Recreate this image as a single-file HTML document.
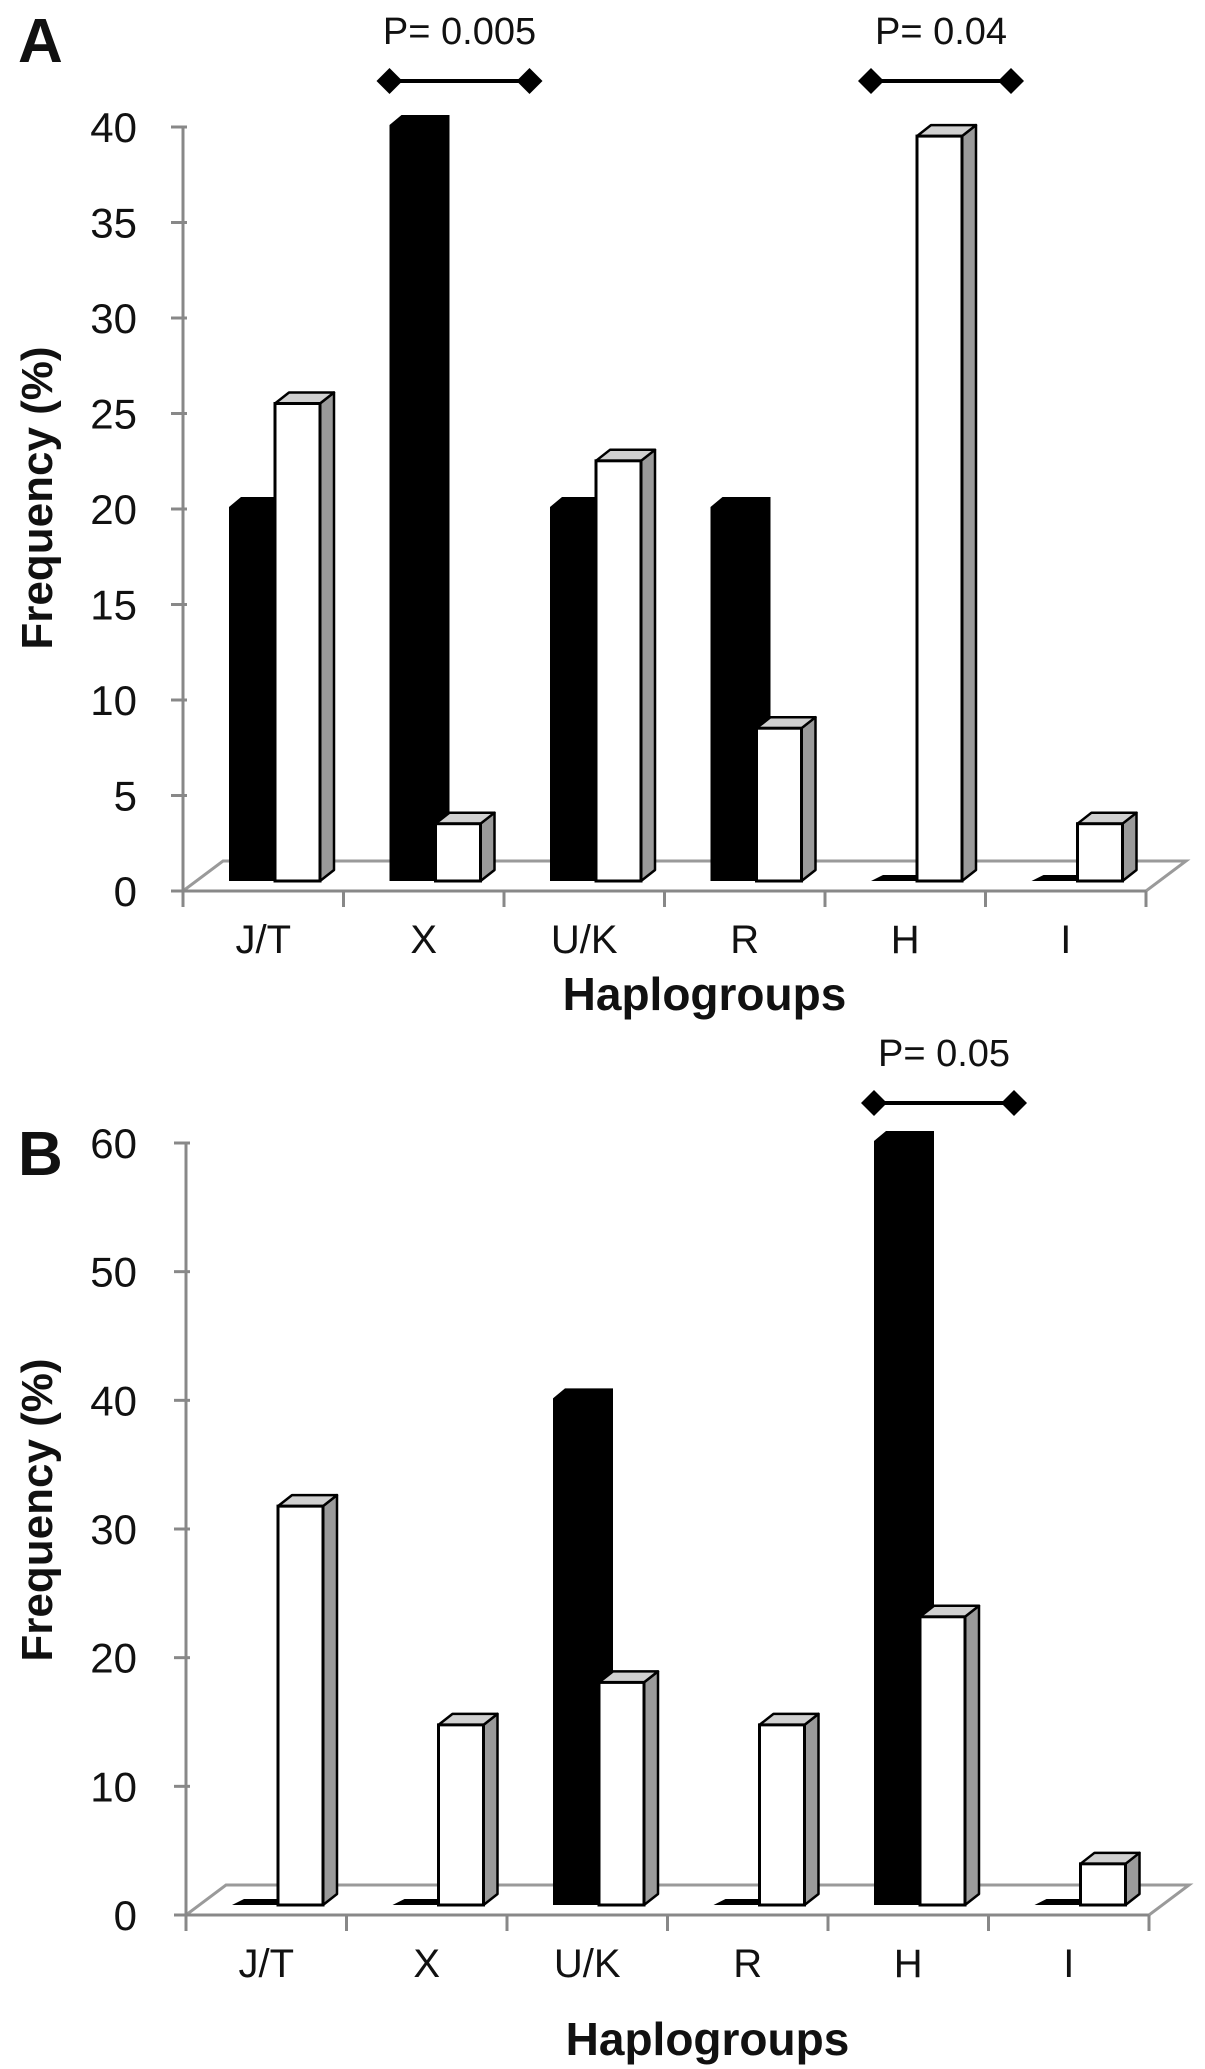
<!DOCTYPE html>
<html><head><meta charset="utf-8"><style>
html,body{margin:0;padding:0;background:#fff;}
svg{display:block;font-family:"Liberation Sans",sans-serif;}
</style></head><body>
<svg id="fig" width="1205" height="2069" viewBox="0 0 1205 2069"></svg>
<script>
const categories = ["J/T","X","U/K","R","H","I"];
const seriesA_black = [20,40,20,20,0,0];
const seriesA_white = [25,3,22,8,39,3];
const seriesB_black = [0,0,40,0,60,0];
const seriesB_white = [31,14,17.3,14,22.4,3.2];
const ticksA = [0,5,10,15,20,25,30,35,40];
const ticksB = [0,10,20,30,40,50,60];

const NS="http://www.w3.org/2000/svg";
const svg=document.getElementById('fig');
function mk(tag,attrs,parent){const e=document.createElementNS(NS,tag);for(const k in attrs)e.setAttribute(k,attrs[k]);(parent||svg).appendChild(e);return e;}

function panel(cfg){
  const g=mk('g',{});
  
  
  const x0=cfg.x0,y0=cfg.y0,cw=160.5,n=categories.length,xe=x0+cw*n;
  const yT=v=>y0-v*(y0-cfg.ytop)/cfg.ymax;
  const base=y0-10;
  const yV=v=>base-v*(y0-cfg.ytop)/cfg.ymax;
  const floor=mk('polygon',{points:`${x0},${y0} ${x0+40},${y0-30} ${xe+40},${y0-30} ${xe},${y0}`,fill:'#fff',stroke:'#9a9a9a','stroke-width':3},g);
   
  const ya=mk('line',{x1:x0,y1:y0,x2:x0,y2:yT(cfg.ymax),stroke:'#888','stroke-width':3},g);
   
  cfg.ticks.forEach(t=>{
    mk('line',{x1:x0-12,y1:yT(t),x2:x0+4,y2:yT(t),stroke:'#888','stroke-width':3},g);
    const tx=mk('text',{x:137,y:yT(t)+15,'text-anchor':'end','font-size':42,fill:'#111'},g);
    tx.textContent=t;
     
  });
  const xa=mk('line',{x1:x0-12,y1:y0,x2:xe,y2:y0,stroke:'#888','stroke-width':3},g);
   
  for(let i=0;i<=n;i++) mk('line',{x1:x0+i*cw,y1:y0,x2:x0+i*cw,y2:y0+16,stroke:'#888','stroke-width':3},g);
  categories.forEach((c,i)=>{
    const cx=x0+i*cw;
    const bl=cx+46,bm=cx+92,br=cx+137,d=14,dy=11;
    const vb=cfg.black[i],vw=cfg.white[i];
    if(vb>0){
      const yt=yV(vb);
      const p=mk('polygon',{points:`${bl},${base} ${bl},${yt+8} ${bl+12},${yt-2} ${bm+d},${yt-2} ${bm+d},${base-dy} ${bm},${base}`,fill:'#000'},g);
       
    } else {
      const p=mk('polygon',{points:`${bl},${base} ${bl+12},${base-6} ${bm},${base-6} ${bm},${base}`,fill:'#000'},g);
       
    }
    const yt=yV(vw);
    const wg=mk('g',{},g);
     
    mk('polygon',{points:`${br},${base} ${br},${yt} ${br+d},${yt-dy} ${br+d},${base-dy}`,fill:'#9a9a9a',stroke:'#000','stroke-width':2.5,'stroke-linejoin':'round'},wg);
    mk('polygon',{points:`${bm},${yt} ${bm+d},${yt-dy} ${br+d},${yt-dy} ${br},${yt}`,fill:'#d0d0d0',stroke:'#000','stroke-width':2.5,'stroke-linejoin':'round'},wg);
    mk('rect',{x:bm,y:yt,width:br-bm,height:base-yt,fill:'#fff',stroke:'#000','stroke-width':3},wg);
    const lab=mk('text',{x:cx+cw/2,y:y0+62,'text-anchor':'middle','font-size':40,fill:'#111'},g);
    lab.textContent=c;
     
  });
  const xt=mk('text',{x:(x0+xe)/2+40,y:cfg.xtitleY,'text-anchor':'middle','font-size':46,'font-weight':'bold',fill:'#111'},g);
  xt.textContent='Haplogroups';
   
  const yt2=mk('text',{x:0,y:0,'text-anchor':'middle','font-size':44,'font-weight':'bold',fill:'#111',transform:`translate(52,${cfg.ytitleY}) rotate(-90)`},g);
  yt2.textContent='Frequency (%)';
   
  const pl=mk('text',{x:18,y:cfg.letterY,'font-size':62,'font-weight':'bold',fill:'#111'},g);
  pl.textContent=cfg.id;
   
  cfg.brackets.forEach(b=>{
    const bg=mk('g',{},g);
     
    const xa1=x0+b.cat*cw+46, xa2=x0+b.cat*cw+46+140;
    mk('line',{x1:xa1,y1:b.y,x2:xa2,y2:b.y,stroke:'#000','stroke-width':4},bg);
    [xa1,xa2].forEach(x=>mk('polygon',{points:`${x-13},${b.y} ${x},${b.y-13} ${x+13},${b.y} ${x},${b.y+13}`,fill:'#000'},bg));
    const t=mk('text',{x:(xa1+xa2)/2,y:b.y-37,'text-anchor':'middle','font-size':38,fill:'#111'},bg);
    t.textContent=b.label;
  });
}
panel({id:'A',x0:183,y0:891,ytop:127,ymax:40,ticks:ticksA,black:seriesA_black,white:seriesA_white,xtitleY:1010,ytitleY:498,letterY:62,
  brackets:[{cat:1,y:81,label:'P= 0.005'},{cat:4,y:81,label:'P= 0.04'}]});
panel({id:'B',x0:186,y0:1915,ytop:1143,ymax:60,ticks:ticksB,black:seriesB_black,white:seriesB_white,xtitleY:2055,ytitleY:1510,letterY:1175,
  brackets:[{cat:4,y:1103,label:'P= 0.05'}]});
</script>
</body></html>
